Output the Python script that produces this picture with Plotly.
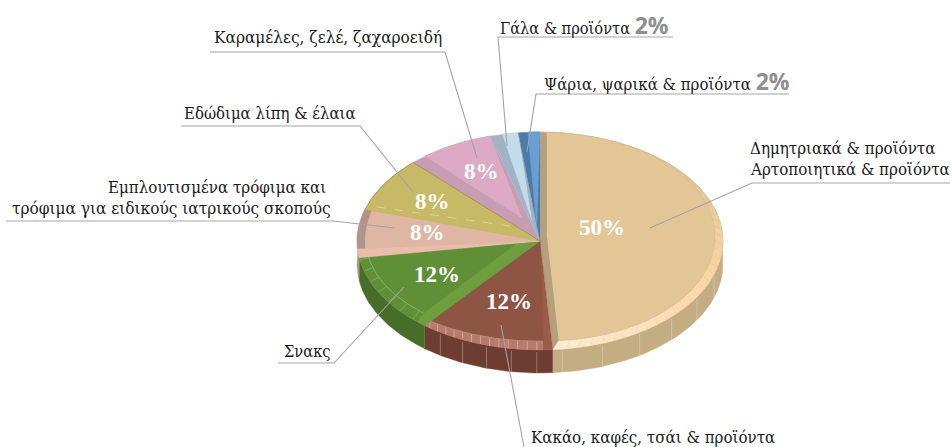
import numpy as np
import plotly.graph_objects as go

# ---- data ----
categories = ["Δημητριακά & προϊόντα / Αρτοποιητικά & προϊόντα", "Κακάο, καφές, τσάι & προϊόντα", "Σνακς",
              "Εμπλουτισμένα τρόφιμα και τρόφιμα για ειδικούς ιατρικούς σκοπούς", "Εδώδιμα λίπη & έλαια",
              "Καραμέλες, ζελέ, ζαχαροειδή", "Γάλα & προϊόντα", "Ψάρια, ψαρικά & προϊόντα"]
values = [48.9, 12.0, 11.7, 7.2, 8.1, 7.8, 2.5, 1.9]
pct_labels = ["50%", "12%", "12%", "8%", "8%", "8%", "2%", "2%"]

# ---- styles ----
wall_col = ["#c4ad82", "#6e3d31", "#466e28", "#b09488", "#a39659", "#b08aa0", "#8a9eae", "#3f6590"]
ring_col = ["#e3c898", "#b87a6c", "#5f8f37", "#b09488", "#a39659", "#dcaac4", "#c3dcea", "#6a9fd3"]
band_col = ["#b5a07d", "#9c5a49", "#6f9e3e", "#e9bdaa", "#c8b966", "#c79db3", "#a0b4c3", "#4f7aa6"]
face_col = ["#e2c696", "#8e5444", "#5f8f37", "#dfb6a4", "#c8b966", "#dcaac4", "#c3dcea", "#6a9fd3"]
band_deg = [0, 3, 3, 5, 0, 5, 4, 3]
face_sx = [168/183, 1.0, 0.95, 0.955, 0.995, 1, 1, 1]
face_sy = [104/109, 0.92, 0.89, 1.0, 0.995, 1, 1, 1]
face_dx = [7, 0, -23, 0, 0, -18, -8, -3]
face_dy = [-4, 0, 2, 0, 0, -23, -20, -12]
tick_step = [6, 3, 6, 0, 0, 0, 0, 0]

CX, CY, AX, AY, DEPTH = 540, 241, 183, 109, 23
FONT = "DejaVu Serif Condensed"

fig = go.Figure()


def arc(t0, t1, cx=CX, cy=CY, ax=AX, ay=AY, n=None):
    n = n or max(int(abs(t1 - t0)) + 2, 3)
    t = np.radians(np.linspace(t0, t1, n))
    return cx + ax * np.sin(t), cy - ay * np.cos(t)


def poly(x, y, color):
    fig.add_trace(go.Scatter(x=list(x), y=list(y), mode="lines", fill="toself", fillcolor=color,
                             line=dict(width=0.4, color=color), hoverinfo="skip", showlegend=False))


def seg(x, y, color, width=0.7):
    fig.add_trace(go.Scatter(x=list(x), y=list(y), mode="lines", line=dict(width=width, color=color),
                             hoverinfo="skip", showlegend=False))


def mix(c1, c2, f):
    a = np.array([int(c1[i:i + 2], 16) for i in (1, 3, 5)])
    b = np.array([int(c2[i:i + 2], 16) for i in (1, 3, 5)])
    m = (a + (b - a) * f).astype(int)
    return "#%02x%02x%02x" % tuple(m)


edges = np.concatenate([[0], np.cumsum(values)]) * 360.0 / sum(values)
edges[1] = 176

# side walls (only the lower half of the ellipse shows)
for i in range(len(values)):
    t0, t1 = max(edges[i], 90), min(edges[i + 1], 275)
    if t1 <= t0:
        continue
    x, y = arc(t0, t1)
    poly(np.r_[x, x[::-1]], np.r_[y, y[::-1] + DEPTH], wall_col[i])
    if i < 2:
        for t in np.arange(t0 + 5, t1, 13 if i == 0 else 8):
            tx, ty = arc(t, t, n=1)
            seg([tx[0], tx[0]], [ty[0] + 2, ty[0] + DEPTH], "#d9c8a8" if i == 0 else "#a88478", 0.8)

# top surfaces
for i in range(len(values)):
    t0, t1 = edges[i], edges[i + 1]
    ox, oy = arc(t0, t1)
    poly(np.r_[CX, ox], np.r_[CY, oy], band_col[i])
    fcx, fcy = CX + face_dx[i], CY + face_dy[i]
    fx_ax, fx_ay = AX * face_sx[i], AY * face_sy[i]
    ts = t0 + band_deg[i]
    centre_x = CX + (face_dx[i] if i == 0 else 0)
    centre_y = CY + (face_dy[i] if i == 0 else 0)
    # bevel ring between outer arc and face arc
    if i == 0:
        steps = np.arange(ts, t1, 4.0)
        for s in steps:
            e = min(s + 4.0, t1)
            f = (s - ts) / (t1 - ts)
            if f < 0.25:
                col = mix("#d6bd8f", "#dcc294", f / 0.25)
            elif f < 0.65:
                col = mix("#dcc294", "#fcd9a6", (f - 0.25) / 0.4)
            else:
                col = mix("#fcd9a6", "#fdebd2", (f - 0.65) / 0.35)
            ax1, ay1 = arc(s, e, n=3)
            bx1, by1 = arc(s, e, centre_x, centre_y, fx_ax, fx_ay, n=3)
            poly(np.r_[ax1, bx1[::-1]], np.r_[ay1, by1[::-1]], col)
    else:
        ax1, ay1 = arc(ts, t1)
        bx1, by1 = arc(ts, t1, centre_x, centre_y, fx_ax, fx_ay)
        poly(np.r_[ax1, bx1[::-1]], np.r_[ay1, by1[::-1]], ring_col[i])
    if tick_step[i] and i > 0:
        for t in np.arange(ts + 2, t1, tick_step[i]):
            a1, a2 = arc(t, t, n=1)
            b1, b2 = arc(t, t, centre_x, centre_y, fx_ax, fx_ay, n=1)
            seg([a1[0], b1[0]], [a2[0], b2[0]], "#dcb8ae" if i == 1 else "#8fb06e", 0.7)
    # face
    bx1, by1 = arc(ts, t1, centre_x, centre_y, fx_ax, fx_ay)
    poly(np.r_[fcx, bx1], np.r_[fcy, by1], face_col[i])
    if i in (1, 2):
        seg(bx1, by1, "#c9a197" if i == 1 else "#9dba80", 0.7)

# dividing lines
lx, ly = arc(edges[5], edges[5], n=1)
seg([CX, lx[0]], [CY, ly[0]], "#a39659", 1.0)
lx, ly = arc(edges[4] + 2, edges[4] + 2, n=1)
fig.add_trace(go.Scatter(x=[CX - 30, lx[0]], y=[CY - 15, ly[0]], mode="lines",
                         line=dict(width=0.8, color="#e0d8a8", dash="dash"), hoverinfo="skip", showlegend=False))

# leader lines
leaders = [
    [(673, 37), (498, 37), (507, 146)],
    [(789, 94), (536, 94), (527, 152)],
    [(210, 52), (445, 52), (477, 158)],
    [(181, 126), (360, 126), (413, 192)],
    [(6, 221), (333, 221), (395, 228)],
    [(278, 363), (334, 363), (404, 287)],
    [(501, 325), (524, 447)],
    [(650, 228), (752, 183), (950, 183)],
]
for pts in leaders:
    xs, ys = zip(*pts)
    seg(xs, ys, "#a3a3a3", 1.1)

# texts
def text(x, y, s, anchor="left", size=16, color="#1a1a1a", fam=FONT):
    fig.add_annotation(x=x, y=y, xref="x", yref="y", text=s, showarrow=False, xanchor=anchor, yanchor="middle",
                       font=dict(family=fam, size=size, color=color), borderpad=0, borderwidth=0)


def pct(i):
    return "<span style='font-family:Open Sans;font-weight:bold;font-size:23px;color:#8f8f8f'>%s</span>" % pct_labels[i]


text(500, 25, "Γάλα &amp; προϊόντα " + pct(6), size=16.3)
text(544, 81, "Ψάρια, ψαρικά &amp; προϊόντα " + pct(7), size=16.7)
text(214, 37, categories[5], size=17.1)
text(184, 113, categories[4].replace("&", "&amp;"), size=16.6)
text(326, 187, "Εμπλουτισμένα τρόφιμα και", "right", 16.8)
text(331, 208, "τρόφιμα για ειδικούς ιατρικούς σκοπούς", "right", 17.1)
text(284, 351, categories[2], size=16.3)
text(531, 437, categories[1].replace("&", "&amp;"), size=16.8)
text(750, 148, "Δημητριακά &amp; προϊόντα", size=16.8)
text(750, 169, "Αρτοποιητικά &amp; προϊόντα", size=16.8)

pct_pos = [(602, 227), (509, 301), (437, 274), (427, 232), (432, 201), (481, 171)]
for (x, y), s in zip(pct_pos, pct_labels):
    text(x, y, "<b>%s</b>" % s, "center", 23, "#ffffff", "Liberation Serif")

fig.update_layout(width=952, height=447, margin=dict(l=0, r=0, t=0, b=0), paper_bgcolor="white",
                  plot_bgcolor="white", showlegend=False,
                  xaxis=dict(range=[0, 952], visible=False, fixedrange=True),
                  yaxis=dict(range=[447, 0], visible=False, fixedrange=True))
fig.write_html("out.html", post_script="document.body.style.margin='0';", config=dict(displayModeBar=False))
